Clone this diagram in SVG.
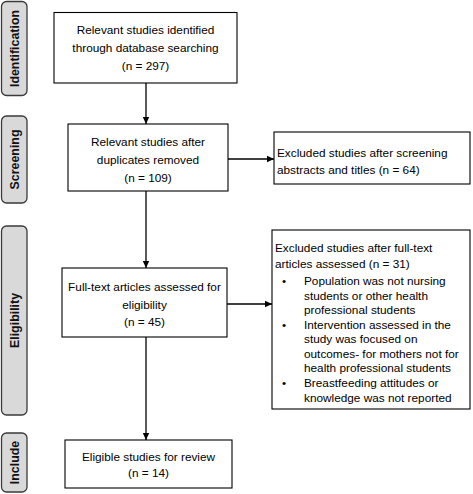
<svg xmlns="http://www.w3.org/2000/svg" width="473" height="494" viewBox="0 0 473 494">
<defs>
<marker id="ah" markerWidth="8" markerHeight="8" refX="7" refY="4" orient="auto" markerUnits="userSpaceOnUse">
<path d="M0,0.8 L7,4 L0,7.2 Z" fill="#000"/>
</marker>
<style>
.box{fill:#fff;stroke:#000;stroke-width:1.1}
.side{fill:#d9d9d9;stroke:#3a3a3a;stroke-width:1.3}
.t{font-family:"Liberation Sans",Arial,sans-serif;font-size:11.8px;fill:#000}
.c{text-anchor:middle}
.s{font-family:"Liberation Sans",Arial,sans-serif;font-size:12.4px;font-weight:bold;fill:#111;text-anchor:middle;dominant-baseline:central}
.ln{stroke:#000;stroke-width:1.3;fill:none}
</style>
</defs>
<rect width="473" height="494" fill="#fff"/>
<g id="stage-identification">
<rect class="side" x="1.5" y="1.5" width="25.5" height="94" rx="5"/>
<text class="s" transform="translate(14.5,48.5) rotate(-90)">Identification</text>
</g>
<g id="stage-screening">
<rect class="side" x="1.5" y="116" width="25.5" height="87" rx="5"/>
<text class="s" transform="translate(14.5,159.5) rotate(-90)">Screening</text>
</g>
<g id="stage-eligibility">
<rect class="side" x="1.5" y="226" width="25.5" height="189" rx="5"/>
<text class="s" transform="translate(14.5,320.5) rotate(-90)">Eligibility</text>
</g>
<g id="stage-include">
<rect class="side" x="1.5" y="433" width="25.5" height="59" rx="5"/>
<text class="s" transform="translate(14.5,462.5) rotate(-90)">Include</text>
</g>
<g id="connectors">
<line class="ln" x1="146" y1="83" x2="146" y2="124" marker-end="url(#ah)"/>
<line class="ln" x1="146" y1="191" x2="146" y2="268" marker-end="url(#ah)"/>
<line class="ln" x1="146" y1="337" x2="146" y2="440" marker-end="url(#ah)"/>
<line class="ln" x1="228" y1="159" x2="274" y2="159" marker-end="url(#ah)"/>
<line class="ln" x1="227" y1="304" x2="272" y2="304" marker-end="url(#ah)"/>
</g>
<g id="identified">
<rect class="box" x="54" y="12.5" width="183" height="70.5"/>
<text class="t c" x="145.5" y="34">Relevant studies identified</text>
<text class="t c" x="145.5" y="52">through database searching</text>
<text class="t c" x="145.5" y="70">(n = 297)</text>
</g>
<g id="screened">
<rect class="box" x="68" y="124" width="160" height="67"/>
<text class="t c" x="148" y="146">Relevant studies after</text>
<text class="t c" x="148" y="164">duplicates removed</text>
<text class="t c" x="148" y="182">(n = 109)</text>
</g>
<g id="fulltext">
<rect class="box" x="62" y="268" width="165" height="69"/>
<text class="t c" x="144.5" y="291">Full-text articles assessed for</text>
<text class="t c" x="144.5" y="308.5">eligibility</text>
<text class="t c" x="144.5" y="326">(n = 45)</text>
</g>
<g id="included">
<rect class="box" x="65" y="440" width="167" height="48"/>
<text class="t c" x="148.5" y="461">Eligible studies for review</text>
<text class="t c" x="148.5" y="477">(n = 14)</text>
</g>
<g id="excluded-screening">
<rect class="box" x="274" y="132" width="196" height="52"/>
<text class="t" x="277" y="157">Excluded studies after screening</text>
<text class="t" x="277" y="174">abstracts and titles (n = 64)</text>
</g>
<g id="excluded-fulltext">
<rect class="box" x="272" y="230" width="198" height="179"/>
<text class="t" x="275" y="252">Excluded studies after full-text</text>
<text class="t" x="275" y="268">articles assessed (n = 31)</text>
<text class="t" x="282" y="285">•</text>
<text class="t" x="304" y="285">Population was not nursing</text>
<text class="t" x="304" y="299.5">students or other health</text>
<text class="t" x="304" y="314">professional students</text>
<text class="t" x="282" y="328.5">•</text>
<text class="t" x="304" y="328.5">Intervention assessed in the</text>
<text class="t" x="304" y="343">study was focused on</text>
<text class="t" x="304" y="357.5">outcomes- for mothers not for</text>
<text class="t" x="304" y="372">health professional students</text>
<text class="t" x="282" y="387">•</text>
<text class="t" x="304" y="387">Breastfeeding attitudes or</text>
<text class="t" x="304" y="402">knowledge was not reported</text>
</g>
</svg>
